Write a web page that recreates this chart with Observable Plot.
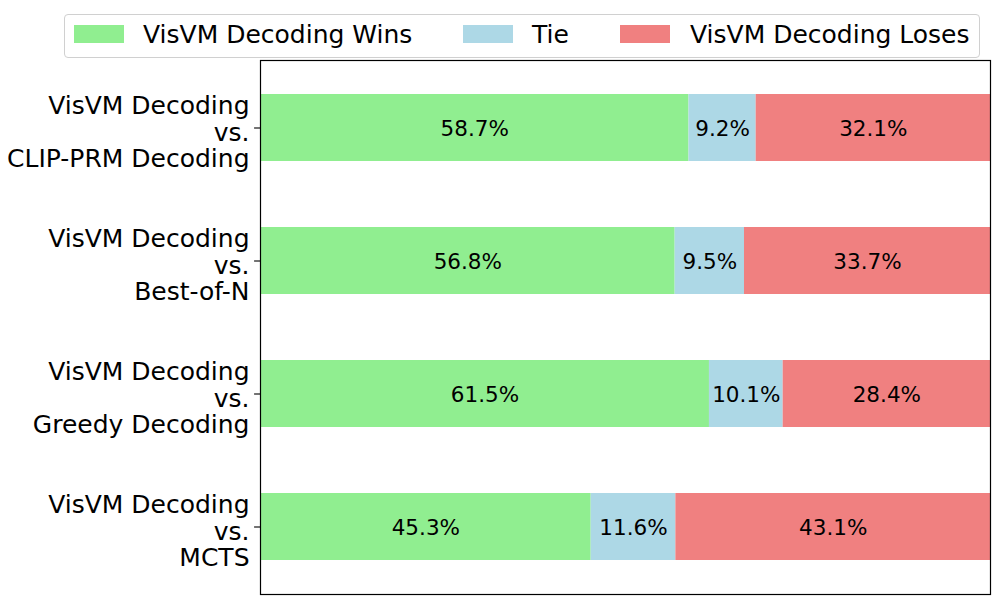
<!DOCTYPE html>
<html>
<head>
<meta charset="utf-8">
<script src="https://cdn.jsdelivr.net/npm/d3@7"></script>
<script src="https://cdn.jsdelivr.net/npm/@observablehq/plot@0.6"></script>
<style>
  body { margin: 0; background: #fff; font-family: "DejaVu Sans", sans-serif; }
  #wrap { position: relative; width: 1000px; height: 600px; }
  #legend { position: absolute; left: 64px; top: 14px; width: 914px; height: 42px;
            border: 1px solid #d0d0d0; border-radius: 4px; background: rgba(255,255,255,0.8); }
  .sw { position: absolute; top: 10px; width: 50px; height: 18px; }
  .lb { position: absolute; top: 3px; font-size: 25px; line-height: 34px; color: #000; white-space: nowrap; }
</style>
</head>
<body>
<div id="wrap">
  <div id="chart"></div>
  <div id="legend"></div>
</div>
<script>
const categories = [
  "VisVM Decoding\nvs.\nCLIP-PRM Decoding",
  "VisVM Decoding\nvs.\nBest-of-N",
  "VisVM Decoding\nvs.\nGreedy Decoding",
  "VisVM Decoding\nvs.\nMCTS"
];
const wins  = [58.7, 56.8, 61.5, 45.3];
const ties  = [9.2, 9.5, 10.1, 11.6];
const loses = [32.1, 33.7, 28.4, 43.1];
const seriesNames = ["VisVM Decoding Wins", "Tie", "VisVM Decoding Loses"];
const seriesColors = ["#90ee90", "#add8e6", "#f08080"];

const rows = [];
categories.forEach((c, i) => {
  rows.push({cat: c, type: seriesNames[0], value: wins[i]});
  rows.push({cat: c, type: seriesNames[1], value: ties[i]});
  rows.push({cat: c, type: seriesNames[2], value: loses[i]});
});

const chart = Plot.plot({
  width: 1000,
  height: 600,
  marginLeft: 260,
  marginRight: 10,
  marginTop: 60,
  marginBottom: 6,
  style: {fontFamily: "DejaVu Sans, sans-serif", background: "white"},
  x: {domain: [0, 100], axis: null},
  y: {domain: categories, paddingInner: 0.5, paddingOuter: 0.25},
  color: {domain: seriesNames, range: seriesColors},
  marks: [
    Plot.barX(rows, Plot.stackX({x: "value", y: "cat", fill: "type", order: null})),
    Plot.textX(rows, Plot.stackX({x: "value", y: "cat", z: "type", order: null,
      text: d => d.value.toFixed(1) + "%", fontSize: 21.5, fill: "black", dy: 1})),
    Plot.frame({stroke: "black", strokeWidth: 1.2}),
    Plot.axisY({tickSize: 6, tickFormat: () => "", label: null, stroke: "black", strokeWidth: 1.1}),
    Plot.axisY({tickSize: 0, tickPadding: 11, fontSize: 25, lineHeight: 1.07, dy: 4,
      label: null, fill: "black"})
  ]
});
document.getElementById("chart").appendChild(chart);

const legend = document.getElementById("legend");
const swX = [9, 398, 555];
const lbX = [78, 467, 625];
seriesNames.forEach((n, i) => {
  const s = document.createElement("div");
  s.className = "sw"; s.style.left = swX[i] + "px"; s.style.background = seriesColors[i];
  legend.appendChild(s);
  const t = document.createElement("div");
  t.className = "lb"; t.style.left = lbX[i] + "px"; t.textContent = n;
  legend.appendChild(t);
});
</script>
</body>
</html>
